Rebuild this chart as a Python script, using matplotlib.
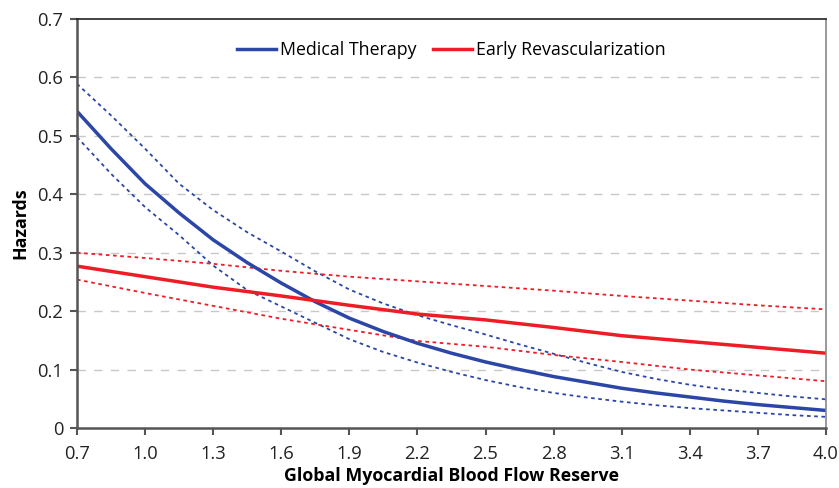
import numpy as np
import matplotlib.pyplot as plt

# --- data ---
x_med = [0.7, 0.85, 1.0, 1.15, 1.3, 1.45, 1.6, 1.75, 1.9, 2.05, 2.2, 2.35,
         2.5, 2.65, 2.8, 2.95, 3.1, 3.25, 3.4, 3.55, 3.7, 3.85, 4.0]
med = [0.542, 0.478, 0.418, 0.368, 0.322, 0.283, 0.248, 0.216, 0.188, 0.165,
       0.145, 0.128, 0.113, 0.100, 0.088, 0.078, 0.068, 0.060, 0.053, 0.046,
       0.040, 0.035, 0.030]
med_hi = [0.589, 0.535, 0.478, 0.418, 0.373, 0.335, 0.302, 0.268, 0.237, 0.213,
          0.193, 0.176, 0.160, 0.143, 0.127, 0.111, 0.096, 0.084, 0.074, 0.066,
          0.060, 0.054, 0.049]
med_lo = [0.498, 0.435, 0.378, 0.330, 0.278, 0.236, 0.208, 0.180, 0.152, 0.130,
          0.112, 0.096, 0.082, 0.070, 0.060, 0.052, 0.045, 0.039, 0.034, 0.030,
          0.026, 0.022, 0.019]

x_rev = [0.7, 1.0, 1.3, 1.6, 1.9, 2.2, 2.5, 2.8, 3.1, 3.4, 3.7, 4.0]
rev = [0.277, 0.259, 0.241, 0.226, 0.210, 0.195, 0.185, 0.172, 0.158, 0.148, 0.138, 0.128]
rev_hi = [0.300, 0.291, 0.281, 0.269, 0.259, 0.251, 0.243, 0.235, 0.226, 0.218, 0.210, 0.203]
rev_lo = [0.254, 0.231, 0.209, 0.187, 0.168, 0.149, 0.139, 0.125, 0.113, 0.100, 0.090, 0.080]

x_ticks = [0.7, 1.0, 1.3, 1.6, 1.9, 2.2, 2.5, 2.8, 3.1, 3.4, 3.7, 4.0]
y_ticks = [0, 0.1, 0.2, 0.3, 0.4, 0.5, 0.6, 0.7]

bleu = '#2b46a6'
rouge = '#ee1c25'

plt.rcParams['font.family'] = ['Open Sans', 'DejaVu Sans']

fig = plt.figure(figsize=(8.39, 4.88), dpi=100)
ax = fig.add_axes([0.0918, 0.123, 0.8927, 0.838])

for y in y_ticks[1:-1]:
    ax.axhline(y, color='#c8c8c8', lw=1.0, ls=(0, (6, 6)), zorder=0)

ax.plot(x_med, med_hi, color=bleu, lw=1.3, ls=(0, (2, 2)))
ax.plot(x_med, med_lo, color=bleu, lw=1.3, ls=(0, (2, 2)))
ax.plot(x_rev, rev_hi, color=rouge, lw=1.3, ls=(0, (2, 2)))
ax.plot(x_rev, rev_lo, color=rouge, lw=1.3, ls=(0, (2, 2)))
ax.plot(x_med, med, color=bleu, lw=2.5, label='Medical Therapy')
ax.plot(x_rev, rev, color=rouge, lw=2.5, label='Early Revascularization')

ax.set_xlim(0.7, 4.0)
ax.set_ylim(0, 0.7)
ax.set_xticks(x_ticks)
ax.set_xticklabels([f"{v:.1f}" for v in x_ticks])
ax.set_yticks(y_ticks)
ax.set_yticklabels(['0'] + [f"{v:.1f}" for v in y_ticks[1:]])
ax.tick_params(direction='out', length=5, width=1.5, color='#555555',
               labelsize=13.2, labelcolor='#222222')
ax.tick_params(axis='x', pad=7)
ax.tick_params(axis='y', pad=5)

for cote in ['left', 'bottom']:
    ax.spines[cote].set_color('#555555')
    ax.spines[cote].set_linewidth(1.8)
ax.spines['top'].set_color('#222222')
ax.spines['top'].set_linewidth(1.2)
ax.spines['right'].set_color('#888888')
ax.spines['right'].set_linewidth(1.2)

ax.set_xlabel('Global Myocardial Blood Flow Reserve', fontsize=12.8,
              fontweight='bold', labelpad=3)
ax.set_ylabel('Hazards', fontsize=12.8, fontweight='bold', labelpad=6)

ax.legend(loc='upper center', bbox_to_anchor=(0.5, 0.985), ncol=2, frameon=False,
          fontsize=12.8, handlelength=2.2, columnspacing=0.9, handletextpad=0.25)

fig.savefig('out.png', dpi=100)
